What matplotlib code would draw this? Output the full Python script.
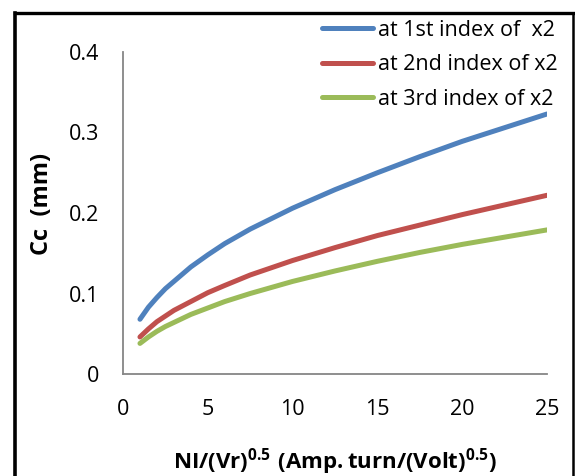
import matplotlib
matplotlib.use('Agg')
import matplotlib.pyplot as plt
from matplotlib.lines import Line2D

plt.rcParams['font.family'] = ['Open Sans', 'DejaVu Sans']
plt.rcParams['mathtext.fontset'] = 'custom'
plt.rcParams['mathtext.rm'] = 'Open Sans'
plt.rcParams['mathtext.bf'] = 'Open Sans:bold'

# values
x = [1, 1.5, 2, 2.5, 3, 4, 5, 6, 7.5, 10, 12.5, 15, 17.5, 20, 22.5, 25]
cc_1st = [0.068, 0.083, 0.095, 0.106, 0.115, 0.133, 0.148, 0.162, 0.180, 0.206, 0.229, 0.250, 0.270, 0.289, 0.306, 0.323]
cc_2nd = [0.046, 0.056, 0.065, 0.072, 0.079, 0.090, 0.101, 0.110, 0.123, 0.141, 0.157, 0.172, 0.185, 0.198, 0.210, 0.222]
cc_3rd = [0.038, 0.046, 0.053, 0.059, 0.064, 0.074, 0.082, 0.090, 0.100, 0.115, 0.128, 0.140, 0.151, 0.161, 0.170, 0.179]
labels = ['at 1st index of  x2', 'at 2nd index of x2', 'at 3rd index of x2']
colors = ['#4F81BD', '#C0504D', '#9BBB59']

fig = plt.figure(figsize=(5.75, 4.76), dpi=100)
ax = fig.add_axes([123 / 575, 1 - 374 / 476, (547 - 123) / 575, (374 - 52) / 476])

for ys, lab, c in zip([cc_1st, cc_2nd, cc_3rd], labels, colors):
    ax.plot(x, ys, color=c, lw=3.6, label=lab, solid_capstyle='round', solid_joinstyle='round')

ax.set_xlim(0, 25)
ax.set_ylim(0, 0.4)
ax.set_xticks([0, 5, 10, 15, 20, 25])
ax.set_yticks([0, 0.1, 0.2, 0.3, 0.4])
ax.set_yticklabels(['0', '0.1', '0.2', '0.3', '0.4'])
ax.tick_params(axis='both', length=0, labelsize=15.5)
ax.tick_params(axis='y', pad=17)
ax.tick_params(axis='x', pad=18)
for s in ['top', 'right']:
    ax.spines[s].set_visible(False)
for s in ['left', 'bottom']:
    ax.spines[s].set_color('#868686')
    ax.spines[s].set_linewidth(1.3)

ax.set_xlabel(r'$\mathbf{NI/(Vr)^{0.5}\ (Amp.turn/(Volt)^{0.5})}$', fontsize=16, labelpad=19)
fig.text(42 / 575, 1 - 204 / 476, 'Cc  (mm)', rotation=90, fontsize=17,
         fontweight='bold', ha='center', va='center')

ax.legend(loc='upper left', bbox_to_anchor=(322 / 575, 1 - 20 / 476),
          bbox_transform=fig.transFigure, frameon=False, fontsize=15.5,
          handlelength=2.37, handletextpad=0.25, labelspacing=0.62,
          borderaxespad=0, borderpad=0)

# outer chart border
fig.add_artist(Line2D([15 / 575, 15 / 575], [0, 1 - 13 / 476], color='black', lw=2.6, transform=fig.transFigure))
fig.add_artist(Line2D([15 / 575, 573 / 575], [1 - 13 / 476, 1 - 13 / 476], color='black', lw=2.4, transform=fig.transFigure))
fig.add_artist(Line2D([573 / 575, 573 / 575], [0, 1 - 13 / 476], color='black', lw=1.8, transform=fig.transFigure))

fig.savefig('out.png', dpi=100)
